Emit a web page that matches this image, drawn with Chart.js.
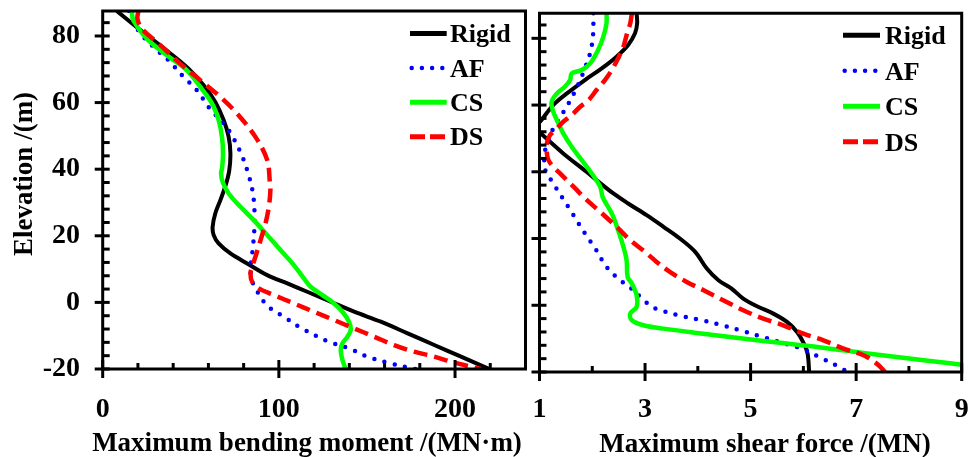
<!DOCTYPE html>
<html>
<head>
<meta charset="utf-8">
<script src="https://cdn.jsdelivr.net/npm/chart.js@4/dist/chart.umd.min.js"></script>
<style>
  html, body { margin: 0; padding: 0; background: #fff; width: 968px; height: 457px; overflow: hidden; }
  canvas { position: absolute; left: 0; top: 0; }
</style>
</head>
<body>
<canvas id="moment" width="968" height="457"></canvas>
<canvas id="shear" width="968" height="457"></canvas>
<script>
// ---- Axis ticks ----
const elevationTicks  = [-20, -16, -12, -8, -4, 0, 4, 8, 12, 16, 20, 24, 28, 32, 36, 40, 44, 48, 52, 56, 60, 64, 68, 72, 76, 80, 84];
const elevationLabels = [-20, 0, 20, 40, 60, 80];
const momentTicks  = [0, 20, 40, 60, 80, 100, 120, 140, 160, 180, 200, 220];
const momentLabels = [0, 100, 200];
const shearTicks  = [1, 2, 3, 4, 5, 6, 7, 8, 9];
const shearLabels = [1, 3, 5, 7, 9];

const seriesNames = ['Rigid', 'AF', 'CS', 'DS'];

// ---- Maximum bending moment (MN·m) against elevation (m) ----
const momentRigidElev = [87.5, 82.2, 75.2, 70.2, 65.2, 60.2, 54.7, 49.7, 44.7, 39.5, 35.2, 30.7, 26.7, 22.7, 20.2, 17.7, 14.7, 11.7, 8.2, 5.7, 3.2, 0.2, -2.8, -5.8, -9.3, -12.8, -16.3, -20];
const momentRigidVal  = [8.0, 20.3, 37.4, 48.7, 57.3, 63.9, 68.7, 71.5, 72.5, 71.8, 69.8, 66.8, 63.9, 62.4, 63.0, 65.8, 72.5, 82.0, 93.4, 104.8, 116.1, 129.4, 142.7, 157.9, 173.1, 188.2, 203.4, 219.5];

const momentAFElev = [87.5, 84.5, 81.2, 76.7, 72.7, 68.2, 63.7, 58.7, 54.2, 51.7, 49.2, 43.5, 37.4, 33.0, 28.2, 22.2, 16.2, 10.2, 7.0, 4.2, -1.0, -4.3, -7.8, -11.8, -13.8, -16.3, -18.1, -20];
const momentAFVal  = [15.0, 17.5, 20.8, 28.8, 37.4, 45.0, 53.5, 60.1, 67.7, 71.5, 74.4, 79.5, 83.3, 85.2, 86.1, 86.1, 85.2, 83.9, 84.5, 86.7, 93.4, 102.8, 112.9, 128.4, 139.8, 150.3, 161.7, 177.5];

const momentCSElev = [87.5, 84.7, 79.2, 74.2, 69.7, 64.7, 59.7, 54.7, 49.7, 44.7, 40.5, 38.7, 36.0, 32.7, 28.7, 24.7, 20.2, 15.7, 11.2, 7.2, 4.7, 2.2, -0.3, -2.8, -5.8, -8.3, -10.3, -12.3, -14.3, -17.3, -20];
const momentCSVal  = [16.5, 17.4, 25.0, 36.4, 47.8, 55.4, 62.1, 65.8, 67.7, 68.3, 67.8, 67.2, 68.2, 71.5, 78.2, 85.7, 93.4, 100.9, 108.5, 114.2, 118.0, 124.7, 131.3, 136.1, 139.8, 140.8, 138.9, 136.1, 135.1, 136.1, 137.9];

const momentDSElev = [87.5, 85.2, 82.2, 77.7, 71.7, 66.7, 61.7, 56.7, 49.7, 42.7, 36.0, 33.7, 28.7, 23.7, 18.7, 13.7, 10.7, 8.7, 6.2, 4.2, 2.2, -0.3, -2.8, -5.3, -7.8, -10.3, -12.8, -14.8, -16.3, -18.1, -20];
const momentDSVal  = [20.3, 19.7, 22.2, 31.7, 44.0, 55.4, 66.8, 76.3, 86.7, 93.4, 94.9, 95.2, 94.3, 92.4, 89.6, 86.7, 84.8, 83.9, 84.8, 88.6, 97.1, 108.5, 119.9, 131.3, 142.7, 154.1, 165.4, 176.8, 188.2, 199.6, 214.5];

// ---- Maximum shear force (MN) against elevation (m) ----
const shearRigidElev = [87.5, 84.5, 81.5, 78.0, 74.5, 71.0, 67.5, 63.5, 60.0, 55.0, 53.3, 51.7, 45.5, 40.0, 37.5, 33.5, 30.5, 27.0, 23.5, 20.0, 16.0, 11.0, 7.5, 5.0, 2.0, -0.3, -2.5, -5.0, -8.0, -11.5, -14.5, -20];
const shearRigidVal  = [2.84, 2.85, 2.81, 2.68, 2.46, 2.18, 1.86, 1.52, 1.26, 1.01, 0.90, 1.01, 1.45, 1.89, 2.08, 2.40, 2.68, 3.03, 3.35, 3.66, 3.95, 4.17, 4.39, 4.64, 4.86, 5.12, 5.43, 5.69, 5.88, 6.01, 6.08, 6.11];

const shearAFElev = [87.5, 83.0, 80.0, 77.0, 74.0, 71.0, 68.2, 65.3, 62.5, 59.9, 57.3, 54.7, 52.0, 49.0, 46.0, 43.0, 40.0, 37.5, 32.3, 27.1, 21.8, 16.7, 11.5, 7.5, 5.3, 1.3, -0.7, -1.7, -3.3, -4.5, -6.0, -7.7, -9.5, -11.3, -13.0, -15.7, -18.5, -20];
const shearAFVal  = [2.02, 2.02, 2.01, 1.98, 1.93, 1.86, 1.79, 1.71, 1.62, 1.53, 1.43, 1.33, 1.23, 1.16, 1.10, 1.09, 1.12, 1.22, 1.43, 1.64, 1.85, 2.07, 2.27, 2.53, 2.72, 2.99, 3.16, 3.34, 3.71, 4.09, 4.47, 4.85, 5.23, 5.61, 5.97, 6.32, 6.68, 6.84];

const shearCSElev = [87.5, 84.5, 80.5, 76.5, 72.5, 70.5, 69.5, 67.5, 65.5, 63.5, 61.0, 58.5, 55.5, 51.5, 47.5, 43.5, 39.5, 35.5, 32.3, 27.5, 22.5, 17.5, 13.5, 8.5, 6.5, 3.0, -0.5, -2.5, -4.5, -6.0, -7.0, -8.3, -9.5, -10.7, -11.8, -13.0, -14.3, -15.5, -16.7, -17.8];
const shearCSVal  = [2.27, 2.27, 2.21, 2.11, 1.96, 1.80, 1.61, 1.58, 1.48, 1.33, 1.23, 1.25, 1.33, 1.45, 1.61, 1.80, 1.99, 2.15, 2.20, 2.37, 2.49, 2.59, 2.65, 2.67, 2.75, 2.84, 2.84, 2.72, 2.75, 2.97, 3.35, 3.98, 4.61, 5.24, 5.88, 6.51, 7.14, 7.77, 8.40, 9.00];

const shearDSElev = [87.5, 84.5, 81.5, 77.5, 74.0, 70.5, 67.5, 64.5, 61.5, 59.5, 57.0, 55.0, 53.0, 51.0, 48.5, 45.5, 43.5, 41.5, 39.5, 37.0, 34.5, 32.5, 28.0, 23.5, 19.5, 16.0, 13.0, 10.0, 7.0, 4.5, 1.5, -1.5, -4.0, -6.0, -8.5, -10.5, -13.0, -15.0, -17.5, -20];
const shearDSVal  = [2.75, 2.72, 2.66, 2.59, 2.49, 2.37, 2.24, 2.08, 1.93, 1.77, 1.61, 1.45, 1.33, 1.20, 1.14, 1.14, 1.17, 1.26, 1.39, 1.55, 1.71, 1.83, 2.15, 2.46, 2.72, 3.00, 3.22, 3.47, 3.79, 4.11, 4.48, 4.86, 5.24, 5.62, 6.00, 6.38, 6.76, 7.14, 7.39, 7.55];

// ---- Line styles for the four foundation cases ----
const styles = [
  { borderColor: '#000000', borderWidth: 4,   borderDash: [],        borderCapStyle: 'butt',  legendDash: [],        legendWidth: 5,   legendStart: 0,   order: 4 },
  { borderColor: '#0000ff', borderWidth: 4.5, borderDash: [0, 10.5], borderCapStyle: 'round', legendDash: [0, 10.2], legendWidth: 4.5, legendStart: 1.7, order: 3 },
  { borderColor: '#00ff00', borderWidth: 4.5, borderDash: [],        borderCapStyle: 'butt',  legendDash: [],        legendWidth: 5,   legendStart: 0,   order: 2 },
  { borderColor: '#ff0000', borderWidth: 4.5, borderDash: [14, 7],   borderCapStyle: 'butt',  legendDash: [15, 5],   legendWidth: 5,   legendStart: 0,   order: 1 }
];

const FONT = '"Liberation Serif", "Times New Roman", serif';
const TICK_SIZE = 28;

function toPoints(vals, elevs) {
  return vals.map((v, i) => ({ x: v, y: elevs[i] }));
}

function buildDatasets(series) {
  return series.map(([vals, elevs], i) => Object.assign({
    label: seriesNames[i],
    data: toPoints(vals, elevs),
    showLine: true,
    fill: false,
    pointRadius: 0,
    pointHoverRadius: 0,
    tension: 0.35,
    borderJoinStyle: 'round'
  }, styles[i]));
}

// Frame, tick marks, axis titles and legend for one panel
function panelDecor(cfg) {
  return {
    id: 'panelDecor',
    afterDraw(chart) {
      const ctx = chart.ctx, a = chart.chartArea;
      const xs = chart.scales.x, ys = chart.scales.y;
      ctx.save();
      ctx.strokeStyle = '#000';
      ctx.lineWidth = 3;
      ctx.lineCap = 'butt';
      ctx.setLineDash([]);
      ctx.beginPath();
      ctx.moveTo(a.left, a.bottom);
      ctx.lineTo(a.left, a.top);
      ctx.lineTo(a.right, a.top);
      ctx.lineTo(a.right, a.bottom);
      ctx.closePath();
      ctx.stroke();

      ys.ticks.forEach(t => {
        const y = ys.getPixelForValue(t.value);
        const major = elevationLabels.includes(t.value);
        ctx.beginPath();
        ctx.moveTo(major ? a.left - 8 : a.left, y);
        ctx.lineTo(a.left + 7, y);
        ctx.stroke();
      });
      xs.ticks.forEach(t => {
        const x = xs.getPixelForValue(t.value);
        const major = cfg.xMajor.includes(t.value);
        ctx.beginPath();
        ctx.moveTo(x, major ? a.bottom + 9 : a.bottom);
        ctx.lineTo(x, a.bottom - (major ? 9 : 6));
        ctx.stroke();
      });

      ctx.fillStyle = '#000';
      ctx.font = 'bold 27px ' + FONT;
      ctx.textAlign = 'center';
      ctx.textBaseline = 'middle';
      ctx.fillText(cfg.xTitle, cfg.xTitleAt[0], cfg.xTitleAt[1]);
      if (cfg.yTitle) {
        ctx.save();
        ctx.translate(cfg.yTitleAt[0], cfg.yTitleAt[1]);
        ctx.rotate(-Math.PI / 2);
        ctx.fillText(cfg.yTitle, 0, 0);
        ctx.restore();
      }

      const L = cfg.legend;
      ctx.font = 'bold 26px ' + FONT;
      ctx.textAlign = 'left';
      ctx.textBaseline = 'alphabetic';
      chart.data.datasets.forEach((ds, i) => {
        const y = L.y + i * L.dy;
        ctx.save();
        ctx.strokeStyle = ds.borderColor;
        ctx.lineWidth = ds.legendWidth;
        ctx.lineCap = ds.borderCapStyle;
        ctx.setLineDash(ds.legendDash);
        ctx.beginPath();
        ctx.moveTo(L.x + ds.legendStart, y);
        ctx.lineTo(L.x + L.len, y);
        ctx.stroke();
        ctx.restore();
        ctx.fillText(ds.label, L.textX, y + 8.7);
      });
      ctx.restore();
    }
  };
}

function makePanel(id, cfg) {
  return new Chart(document.getElementById(id), {
    type: 'scatter',
    data: { datasets: buildDatasets(cfg.series) },
    options: {
      responsive: false,
      animation: false,
      events: [],
      devicePixelRatio: 1,
      layout: { padding: cfg.padding },
      plugins: { legend: { display: false }, tooltip: { enabled: false } },
      scales: {
        x: {
          type: 'linear',
          position: 'bottom',
          min: cfg.xMin,
          max: cfg.xMax,
          grid: { display: false, drawTicks: false },
          border: { display: false },
          afterBuildTicks: s => { s.ticks = cfg.xTicks.map(v => ({ value: v })); },
          afterFit: s => { s.height = cfg.xAxisHeight; s.paddingLeft = 0; s.paddingRight = 0; },
          ticks: {
            autoSkip: false,
            maxRotation: 0,
            padding: cfg.xTickPad,
            color: '#000',
            font: { family: FONT, size: TICK_SIZE, weight: 'bold' },
            callback: v => cfg.xMajor.includes(v) ? String(v) : ''
          }
        },
        y: {
          type: 'linear',
          position: 'left',
          min: -20,
          max: 87.5,
          grid: { display: false, drawTicks: false },
          border: { display: false },
          afterBuildTicks: s => { s.ticks = elevationTicks.map(v => ({ value: v })); },
          afterFit: s => { s.width = cfg.yAxisWidth; s.paddingTop = 0; s.paddingBottom = 0; },
          ticks: {
            display: cfg.yLabels,
            autoSkip: false,
            padding: 22.7,
            color: '#000',
            font: { family: FONT, size: TICK_SIZE, weight: 'bold' },
            callback: v => elevationLabels.includes(v) ? String(v) : ''
          }
        }
      }
    },
    plugins: [panelDecor(cfg)]
  });
}

makePanel('moment', {
  series: [[momentRigidVal, momentRigidElev], [momentAFVal, momentAFElev], [momentCSVal, momentCSElev], [momentDSVal, momentDSElev]],
  padding: { left: 0, top: 11, right: 442.5, bottom: 0 },
  xMin: 0, xMax: 240, xTicks: momentTicks, xMajor: momentLabels,
  xAxisHeight: 88, xTickPad: 23.7,
  yAxisWidth: 102.7, yLabels: true,
  xTitle: 'Maximum bending moment /(MN·m)', xTitleAt: [307, 444],
  yTitle: 'Elevation /(m)', yTitleAt: [25, 174],
  legend: { x: 410, len: 36.7, textX: 450, y: 33.5, dy: 34.4 }
});

makePanel('shear', {
  series: [[shearRigidVal, shearRigidElev], [shearAFVal, shearAFElev], [shearCSVal, shearCSElev], [shearDSVal, shearDSElev]],
  padding: { left: 0, top: 13.3, right: 6.3, bottom: 0 },
  xMin: 1, xMax: 9, xTicks: shearTicks, xMajor: shearLabels,
  xAxisHeight: 85, xTickPad: 20.7,
  yAxisWidth: 539.5, yLabels: false,
  xTitle: 'Maximum shear force /(MN)', xTitleAt: [765, 445],
  yTitle: null,
  legend: { x: 843, len: 37, textX: 885, y: 35.3, dy: 35.5 }
});
</script>
</body>
</html>
